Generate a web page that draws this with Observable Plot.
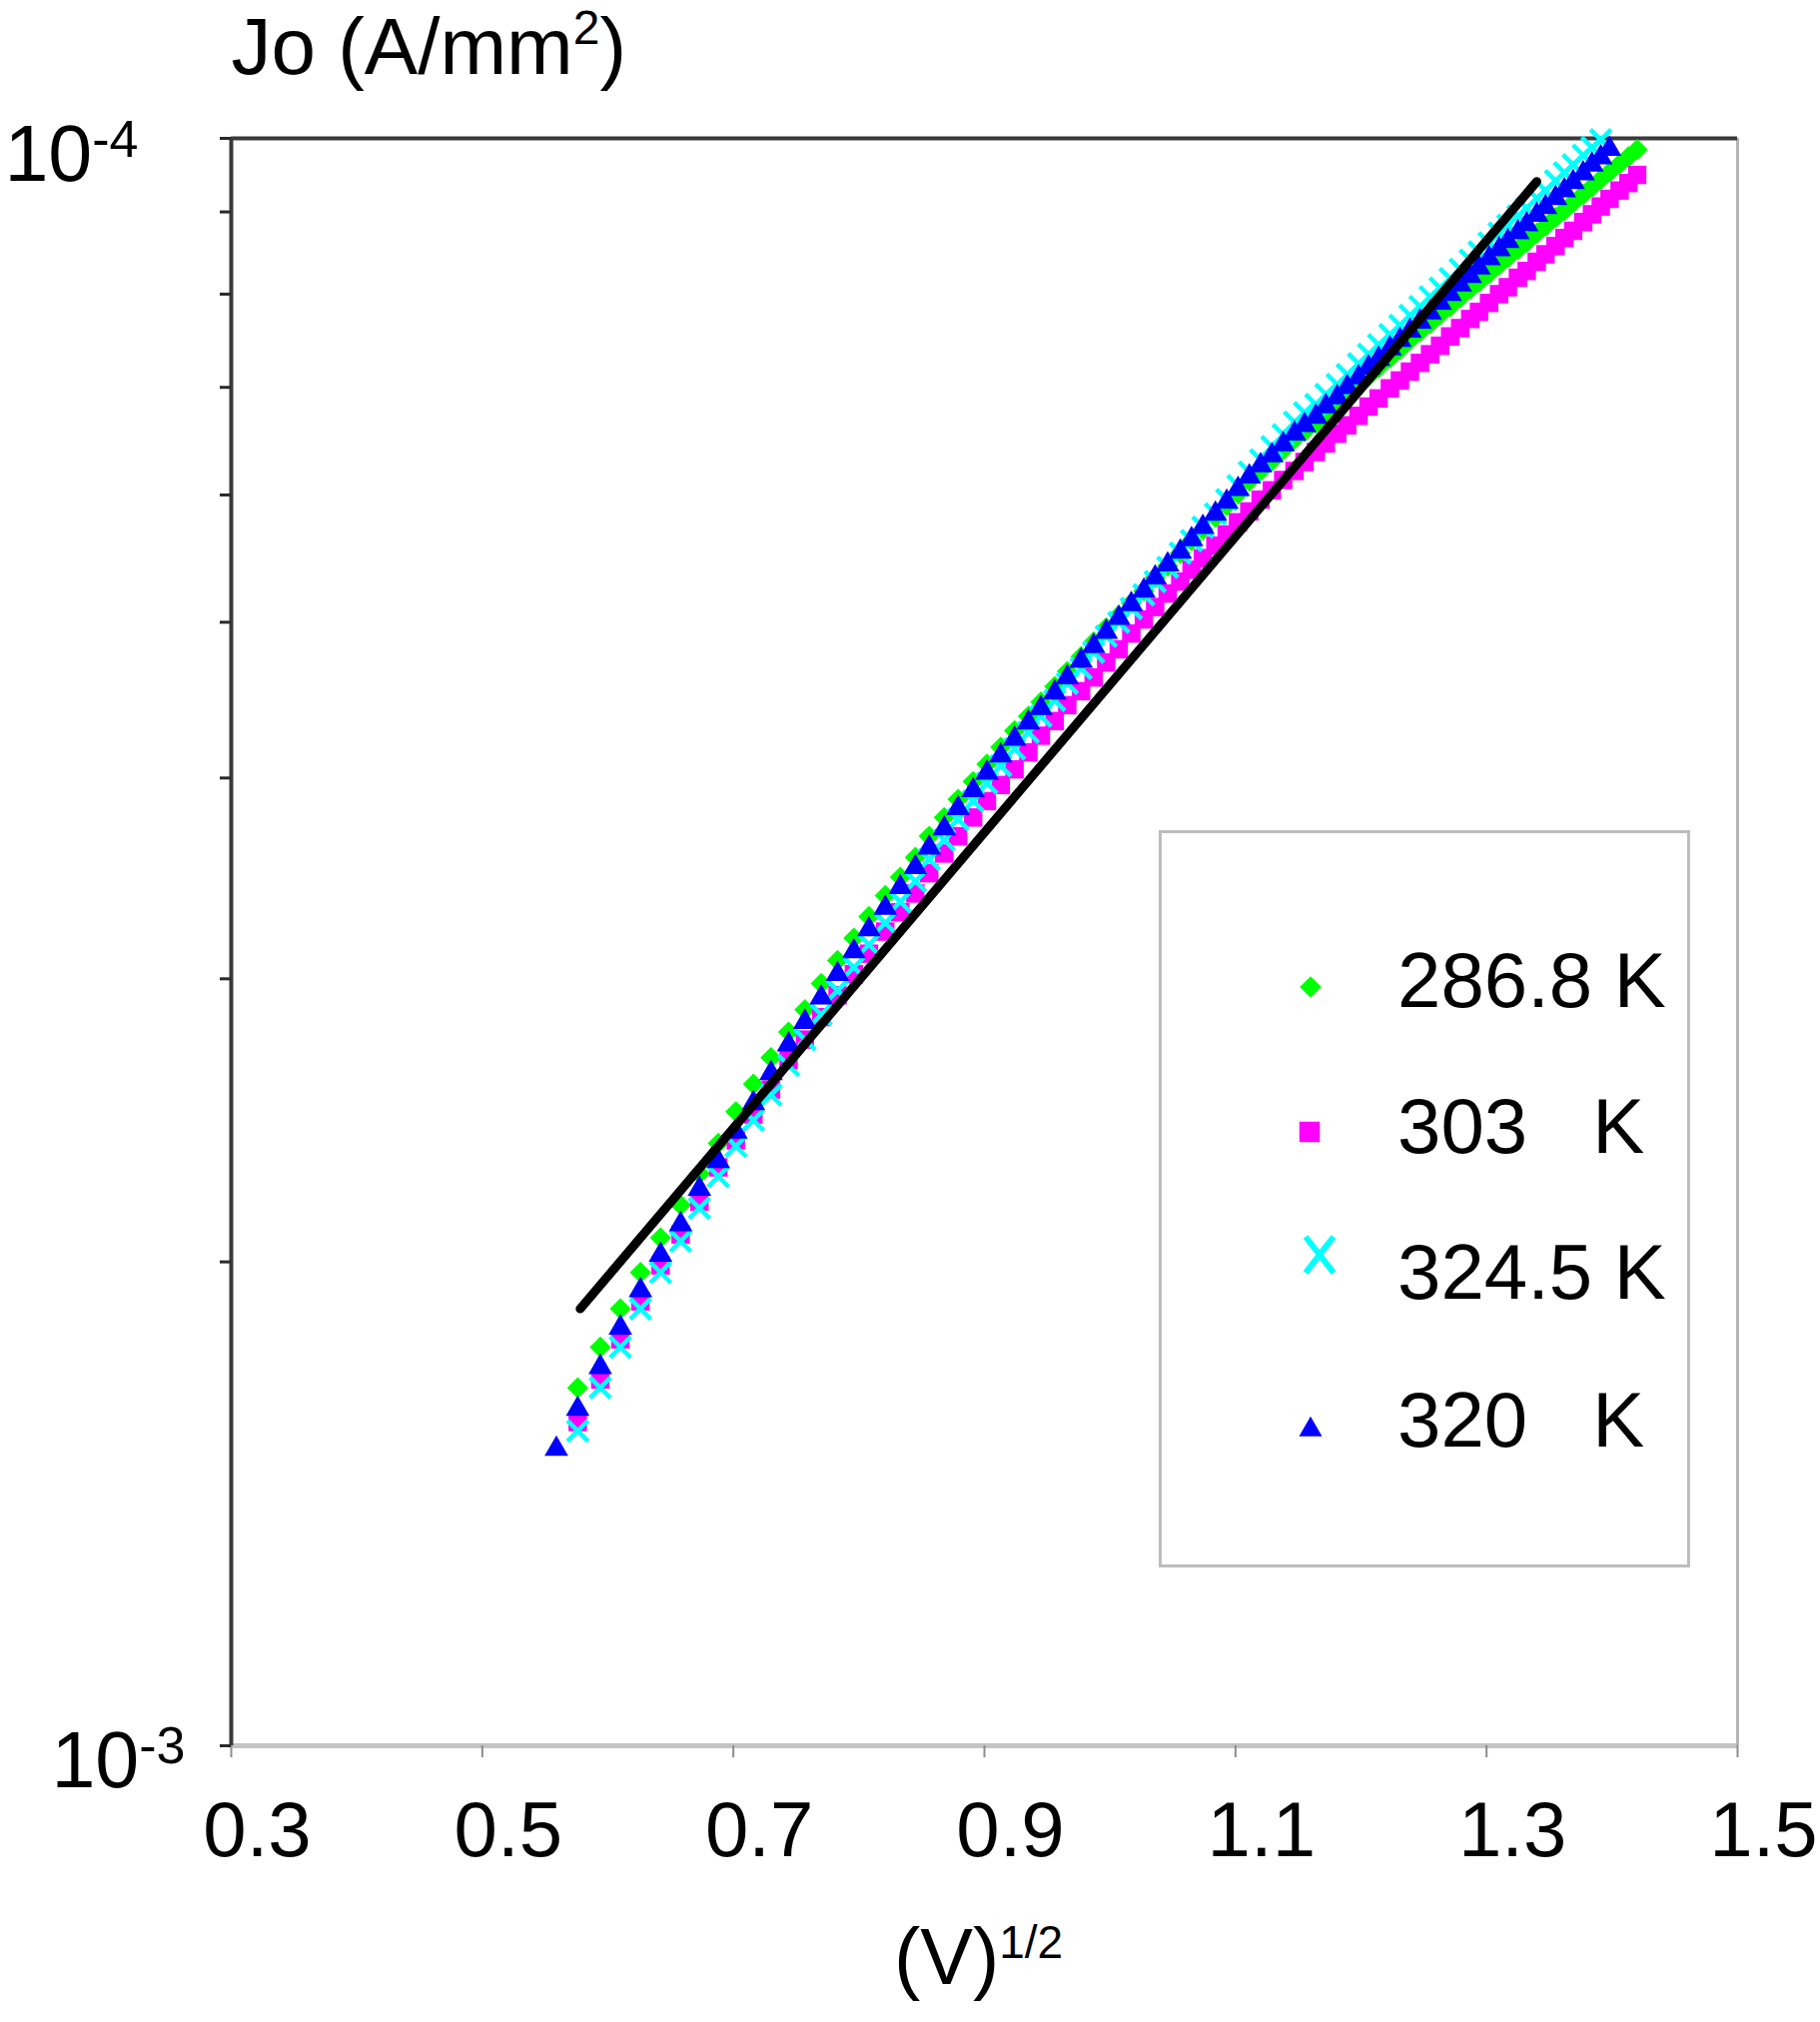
<!DOCTYPE html>
<html>
<head>
<meta charset="utf-8">
<script src="https://cdn.jsdelivr.net/npm/d3@7"></script>
<script src="https://cdn.jsdelivr.net/npm/@observablehq/plot@0.6"></script>
<style>
  html, body { margin: 0; padding: 0; background: #fff; }
  #wrap { position: relative; width: 1822px; height: 2024px; background: #fff; }
  svg text { white-space: pre; }
</style>
</head>
<body>
<div id="wrap"></div>
<script>
// ---------- data ----------
// x positions: (V)^1/2
const sqrtV = [
  0.559,0.576,0.594,0.610,0.626,0.642,0.658,0.673,0.688,0.702,
  0.716,0.730,0.744,0.757,0.770,0.783,0.796,0.808,0.821,0.833,
  0.845,0.856,0.868,0.879,0.891,0.902,0.913,0.924,0.935,0.945,
  0.956,0.966,0.977,0.987,0.997,1.007,1.017,1.027,1.036,1.046,
  1.056,1.065,1.074,1.084,1.093,1.102,1.111,1.120,1.129,1.138,
  1.147,1.155,1.164,1.172,1.181,1.189,1.198,1.206,1.214,1.223,
  1.231,1.239,1.247,1.255,1.263,1.271,1.279,1.287,1.294,1.302,
  1.310,1.317,1.325,1.332,1.340,1.347,1.355,1.362,1.369,1.377,
  1.384,1.391,1.398,1.406,1.413,1.420
];

// Jo (A/mm²) per temperature
const jo_286_8K = [
  null,1.67e-4,1.77e-4,1.87e-4,1.97e-4,2.07e-4,2.17e-4,2.27e-4,2.37e-4,2.48e-4,
  2.58e-4,2.68e-4,2.78e-4,2.87e-4,2.98e-4,3.08e-4,3.18e-4,3.28e-4,3.38e-4,3.47e-4,
  3.57e-4,3.68e-4,3.78e-4,3.88e-4,3.98e-4,4.08e-4,4.18e-4,4.28e-4,4.37e-4,4.46e-4,
  4.56e-4,4.66e-4,4.76e-4,4.86e-4,4.96e-4,5.05e-4,5.14e-4,5.23e-4,5.33e-4,5.42e-4,
  5.52e-4,5.62e-4,5.71e-4,5.81e-4,5.91e-4,6.01e-4,6.12e-4,6.21e-4,6.30e-4,6.40e-4,
  6.50e-4,6.57e-4,6.65e-4,6.74e-4,6.83e-4,6.92e-4,7.02e-4,7.11e-4,7.20e-4,7.30e-4,
  7.39e-4,7.49e-4,7.58e-4,7.67e-4,7.77e-4,7.86e-4,7.96e-4,8.06e-4,8.14e-4,8.24e-4,
  8.34e-4,8.43e-4,8.53e-4,8.62e-4,8.73e-4,8.82e-4,8.93e-4,9.02e-4,9.12e-4,9.23e-4,
  9.33e-4,9.43e-4,9.53e-4,9.64e-4,9.74e-4,9.84e-4
];
const jo_303K = [
  null,1.59e-4,1.69e-4,1.79e-4,1.89e-4,1.99e-4,2.08e-4,2.18e-4,2.29e-4,2.38e-4,
  2.47e-4,2.56e-4,2.67e-4,2.75e-4,2.84e-4,2.93e-4,3.02e-4,3.11e-4,3.21e-4,3.30e-4,
  3.39e-4,3.49e-4,3.59e-4,3.68e-4,3.78e-4,3.87e-4,3.96e-4,4.05e-4,4.15e-4,4.25e-4,
  4.34e-4,4.44e-4,4.53e-4,4.62e-4,4.72e-4,4.81e-4,4.92e-4,5.02e-4,5.11e-4,5.21e-4,
  5.30e-4,5.39e-4,5.48e-4,5.58e-4,5.67e-4,5.77e-4,5.86e-4,5.96e-4,6.04e-4,6.13e-4,
  6.21e-4,6.29e-4,6.38e-4,6.46e-4,6.55e-4,6.63e-4,6.72e-4,6.81e-4,6.89e-4,6.99e-4,
  7.07e-4,7.16e-4,7.25e-4,7.34e-4,7.43e-4,7.53e-4,7.62e-4,7.72e-4,7.80e-4,7.90e-4,
  8.00e-4,8.08e-4,8.19e-4,8.27e-4,8.38e-4,8.47e-4,8.57e-4,8.67e-4,8.76e-4,8.87e-4,
  8.97e-4,9.07e-4,9.17e-4,9.28e-4,9.38e-4,9.49e-4
];
const jo_324_5K = [
  null,1.57e-4,1.67e-4,1.77e-4,1.87e-4,1.97e-4,2.06e-4,2.16e-4,2.26e-4,2.36e-4,
  2.45e-4,2.54e-4,2.65e-4,2.75e-4,2.85e-4,2.95e-4,3.05e-4,3.15e-4,3.25e-4,3.35e-4,
  3.45e-4,3.56e-4,3.66e-4,3.77e-4,3.87e-4,3.97e-4,4.07e-4,4.17e-4,4.27e-4,4.37e-4,
  4.47e-4,4.58e-4,4.68e-4,4.79e-4,4.90e-4,5.00e-4,5.10e-4,5.20e-4,5.30e-4,5.41e-4,
  5.52e-4,5.62e-4,5.73e-4,5.84e-4,5.96e-4,6.08e-4,6.20e-4,6.31e-4,6.43e-4,6.54e-4,
  6.66e-4,6.75e-4,6.83e-4,6.93e-4,7.03e-4,7.13e-4,7.24e-4,7.34e-4,7.44e-4,7.55e-4,
  7.65e-4,7.76e-4,7.86e-4,7.97e-4,8.07e-4,8.18e-4,8.29e-4,8.40e-4,8.50e-4,8.61e-4,
  8.73e-4,8.83e-4,8.95e-4,9.05e-4,9.18e-4,9.28e-4,9.41e-4,9.52e-4,9.63e-4,9.76e-4,
  9.87e-4,9.98e-4,null,null,null,null
];
const jo_320K = [
  1.53e-4,1.62e-4,1.72e-4,1.82e-4,1.92e-4,2.02e-4,2.11e-4,2.22e-4,2.31e-4,2.41e-4,
  2.51e-4,2.62e-4,2.73e-4,2.82e-4,2.92e-4,3.02e-4,3.12e-4,3.22e-4,3.32e-4,3.42e-4,
  3.52e-4,3.62e-4,3.72e-4,3.83e-4,3.93e-4,4.03e-4,4.13e-4,4.23e-4,4.33e-4,4.42e-4,
  4.52e-4,4.62e-4,4.73e-4,4.83e-4,4.93e-4,5.03e-4,5.13e-4,5.23e-4,5.33e-4,5.43e-4,
  5.53e-4,5.63e-4,5.73e-4,5.84e-4,5.94e-4,6.05e-4,6.16e-4,6.26e-4,6.35e-4,6.45e-4,
  6.55e-4,6.63e-4,6.71e-4,6.81e-4,6.90e-4,7.00e-4,7.10e-4,7.20e-4,7.29e-4,7.40e-4,
  7.49e-4,7.59e-4,7.69e-4,7.79e-4,7.90e-4,8.00e-4,8.11e-4,8.21e-4,8.31e-4,8.42e-4,
  8.53e-4,8.63e-4,8.74e-4,8.84e-4,8.96e-4,9.06e-4,9.18e-4,9.28e-4,9.39e-4,9.51e-4,
  9.63e-4,9.73e-4,9.85e-4,null,null,null
];

// straight fit line (two end points)
const fitX = [0.578, 1.340];
const fitJo = [1.87e-4, 9.40e-4];

// series styling / legend
const seriesLabels  = ["286.8 K", "303   K", "324.5 K", "320   K"];
const seriesColors  = ["#00ff00", "#ff00ff", "#00ffff", "#0000ff"];
const seriesSymbols = ["diamond2", "square", "times", "triangle"];

// axes
const xDomain = [0.3, 1.5];
const xTicks = [0.3, 0.5, 0.7, 0.9, 1.1, 1.3, 1.5];
const xTickLabels = ["0.3", "0.5", "0.7", "0.9", "1.1", "1.3", "1.5"];
const yDomain = [1e-4, 1e-3];
const yTicks = [1e-4, 2e-4, 3e-4, 4e-4, 5e-4, 6e-4, 7e-4, 8e-4, 9e-4, 1e-3];
const yLabelValues = [1e-4, 1e-3];
const yLabelTexts = ["10^{-3}", "10^{-4}"];   // as printed on the original
const titleText = "Jo (A/mm^{2})";
const xLabelText = "(V)^{1/2}";

// ---------- build ----------
const series = [jo_286_8K, jo_303K, jo_324_5K, jo_320K];
const tables = series.map((arr, s) =>
  sqrtV.map((x, i) => ({x, jo: arr[i], s})).filter(d => d.jo != null));
const fitTable = fitX.map((x, i) => ({x, jo: fitJo[i]}));

const FONT = '"Liberation Sans", Arial, Helvetica, sans-serif';
const dotOpts = [
  {r: 9.6, fill: seriesColors[0], stroke: "none"},
  {r: 10.4, fill: seriesColors[1], stroke: "none"},
  {r: 9.4, fill: "none", stroke: seriesColors[2], strokeWidth: 4.5},
  {r: 8.8, fill: seriesColors[3], stroke: "none"}
];

const chart = Plot.plot({
  width: 1822,
  height: 2024,
  marginLeft: 231,
  marginRight: 83,
  marginTop: 138,
  marginBottom: 277,
  style: {fontFamily: FONT, color: "#000", background: "#fff", overflow: "visible"},
  x: {type: "linear", domain: xDomain, label: null},
  y: {type: "log", domain: yDomain, label: null},
  marks: [
    // frame
    Plot.ruleY([yDomain[0]], {stroke: "#c4c4c4", strokeWidth: 5}),
    Plot.ruleX([xDomain[1]], {stroke: "#b4b4b4", strokeWidth: 3}),
    Plot.ruleY([yDomain[1]], {stroke: "#3a3a3a", strokeWidth: 4}),
    Plot.ruleX([xDomain[0]], {stroke: "#3a3a3a", strokeWidth: 4}),
    // ticks
    Plot.axisX({ticks: xTicks, tickSize: 12, tickFormat: () => "", stroke: "#8c8c8c", strokeWidth: 2, label: null}),
    Plot.axisY({ticks: yTicks, tickSize: 11, tickFormat: () => "", stroke: "#2a2a2a", strokeWidth: 3, label: null}),
    // tick labels
    Plot.text(xTicks, {x: d => d, text: (d, i) => xTickLabels[i], frameAnchor: "bottom",
      lineAnchor: "bottom", textAnchor: "middle", dy: 110, dx: 26, fontSize: 78, fontFamily: FONT, fill: "#000"}),
    Plot.text([yLabelValues[0]], {y: d => d, text: () => yLabelTexts[0], frameAnchor: "left",
      lineAnchor: "bottom", textAnchor: "end", dy: 41, dx: -46, fontSize: 79, fontFamily: FONT, fill: "#000"}),
    Plot.text([yLabelValues[1]], {y: d => d, text: () => yLabelTexts[1], frameAnchor: "left",
      lineAnchor: "bottom", textAnchor: "end", dy: 42, dx: -93, fontSize: 79, fontFamily: FONT, fill: "#000"}),
    // title and axis label
    Plot.text([titleText], {text: d => d, frameAnchor: "top-left", lineAnchor: "bottom",
      textAnchor: "start", dy: -65, dx: 0, fontSize: 80, fontFamily: FONT, fill: "#000"}),
    Plot.text([xLabelText], {text: d => d, frameAnchor: "bottom", lineAnchor: "bottom",
      textAnchor: "middle", dy: 238, dx: -6, fontSize: 79, fontFamily: FONT, fill: "#000"}),
    // data (series order as in the original: blue drawn last)
    ...tables.map((t, s) => Plot.dot(t, {x: "x", y: "jo", symbol: seriesSymbols[s], ...dotOpts[s]})),
    Plot.line(fitTable, {x: "x", y: "jo", stroke: "#000", strokeWidth: 9})
  ]
});

document.getElementById("wrap").appendChild(chart);

// superscripts: "^{...}" -> raised tspan
const supStyle = {
  [titleText]: {size: 48, shift: 30},
  [xLabelText]: {size: 46, shift: 26},
  [yLabelTexts[0]]: {size: 52, shift: 24},
  [yLabelTexts[1]]: {size: 52, shift: 24}
};
const NS = "http://www.w3.org/2000/svg";
chart.querySelectorAll("text").forEach(t => {
  const s = t.textContent;
  if (!s.includes("^{")) return;
  const cfg = supStyle[s] || {size: 50, shift: 24};
  while (t.firstChild) t.removeChild(t.firstChild);
  const re = /\^\{([^}]*)\}/g;
  let last = 0, m, pending = 0;
  const addPlain = str => {
    const ts = document.createElementNS(NS, "tspan");
    if (pending) { ts.setAttribute("dy", pending); pending = 0; }
    ts.textContent = str;
    t.appendChild(ts);
  };
  while ((m = re.exec(s))) {
    if (m.index > last) addPlain(s.slice(last, m.index));
    const sup = document.createElementNS(NS, "tspan");
    sup.setAttribute("dy", -cfg.shift + pending);
    sup.setAttribute("font-size", cfg.size);
    sup.textContent = m[1];
    t.appendChild(sup);
    pending = cfg.shift;
    last = re.lastIndex;
  }
  if (last < s.length) addPlain(s.slice(last));
});

// legend box (inside plot area)
const legendPos = {left: 1160, top: 831, w: 532, h: 738};
const legendMarkers = [[152, 157], [151, 302], [161, 425], [152, 600]];
const legendBaselines = [177, 323, 469, 617];
const leg = d3.select("#wrap").append("svg")
  .attr("width", legendPos.w).attr("height", legendPos.h)
  .style("position", "absolute").style("left", legendPos.left + "px").style("top", legendPos.top + "px")
  .style("font-family", FONT);
leg.append("rect").attr("x", 1.5).attr("y", 1.5).attr("width", 529).attr("height", 735)
  .attr("fill", "#fff").attr("stroke", "#bdbdbd").attr("stroke-width", 3);
const legSym = [d3.symbolDiamond2, d3.symbolSquare, null, d3.symbolTriangle];
const legSize = [300, 420, 0, 230];
seriesLabels.forEach((lab, i) => {
  const [mx, my] = legendMarkers[i];
  if (legSym[i]) {
    leg.append("path").attr("transform", `translate(${mx},${my})`)
      .attr("d", d3.symbol(legSym[i], legSize[i])()).attr("fill", seriesColors[i]);
  } else {
    leg.append("path").attr("transform", `translate(${mx},${my})`)
      .attr("d", "M-14,-18L14,18M-14,18L14,-18").attr("fill", "none")
      .attr("stroke", seriesColors[i]).attr("stroke-width", 6);
  }
  leg.append("text").attr("x", 239).attr("y", legendBaselines[i])
    .attr("font-size", 78).attr("fill", "#000").text(lab);
});
</script>
</body>
</html>
